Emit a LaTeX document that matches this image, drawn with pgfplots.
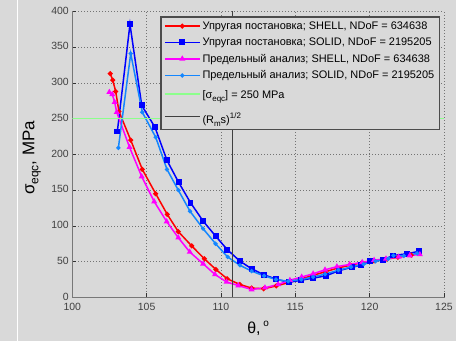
\documentclass[border=0pt]{standalone}
\usepackage{pgfplots}
\pgfplotsset{compat=1.18}
\usepackage{fontspec}
\setmainfont{Liberation Sans}
\definecolor{bg}{RGB}{217,217,217}
\definecolor{axgray}{RGB}{120,120,120}
\definecolor{lgreen}{RGB}{140,255,140}
\definecolor{lblue}{RGB}{20,135,255}
\definecolor{pmag}{RGB}{255,0,255}
\definecolor{pred}{RGB}{255,0,0}
\definecolor{pblue}{RGB}{0,0,255}
\newcommand\sub[1]{\raisebox{-0.45ex}{\fontsize{8}{8}\selectfont #1}}
\newcommand\sups[1]{\raisebox{0.9ex}{\fontsize{8}{8}\selectfont #1}}
\begin{document}
\begin{tikzpicture}
\fill[bg] (0,0) rectangle (456bp,341bp);
\draw[white,line width=0.8bp] (17bp,0) -- (17bp,341bp);
\begin{axis}[
  at={(72.3bp,44bp)}, anchor=south west,
  width=371.7bp, height=286bp, scale only axis,
  xmin=100, xmax=125, ymin=0, ymax=400,
  xtick={100,105,...,125}, ytick={0,50,...,400},
  axis x line*=bottom, axis y line*=left,
  axis line style={-, draw=axgray, line width=1.4bp},
  grid=major,
  grid style={dash pattern=on 0.8bp off 2.2bp, draw=black!55, line width=0.6bp},
  tick align=inside, major tick length=4bp,
  tick style={draw=black!80, line width=0.7bp},
  /pgf/number format/assume math mode=true,
  tick label style={font=\fontsize{10.5}{12}\selectfont, text=black!75},
  xticklabel style={yshift=-2.2bp},
  yticklabel style={yshift=0.8bp},
  xlabel={θ,\,\sups{\fontsize{10}{10}\selectfont o}},
  xlabel style={font=\fontsize{16}{18}\selectfont, at={(axis description cs:0.5,-0.108)}, anchor=center},
  ylabel={σ\raisebox{-0.45ex}{\fontsize{12}{12}\selectfont eqc}, MPa},
  ylabel style={font=\fontsize{17}{20}\selectfont, at={(axis description cs:-0.109,0.488)}, anchor=center},
  legend style={at={(0.989,0.9825)}, anchor=north east, fill=bg, draw=black!70, line width=1.2bp,
    font=\fontsize{11}{13}\selectfont, cells={anchor=west}, inner xsep=3bp, inner ysep=2.5bp, row sep=3.1bp},
  legend image code/.code={\draw[mark repeat=2,mark phase=2,#1] plot coordinates {(0bp,0bp) (17.5bp,0bp) (35bp,0bp)};},
]
\addplot[pred, line width=1.5bp, mark=*, mark size=1.7bp] coordinates {
(102.55,313) (102.72,304) (102.92,288) (103.14,260) (103.93,220) (104.71,179) (105.61,145) (106.39,116) (107.13,92) (108.03,72) (108.88,54) (109.66,39) (110.42,26) (111.28,18) (112.06,13) (112.87,12) (113.72,16) (114.6,21) (115.43,26) (116.22,31) (117.05,36) (117.85,41) (118.7,45) (119.5,48.5) (120.3,51) (121.1,53.5) (121.9,56) (122.8,59)
};
\addlegendentry{Упругая постановка; SHELL, NDoF = 634638}
\addplot[pblue, line width=1.5bp, mark=square*, mark size=2.2bp] coordinates {
(103.03,232) (103.88,382) (104.67,268.5) (105.56,238) (106.37,191.6) (107.15,161) (107.95,132.5) (108.8,106.7) (109.64,85.7) (110.43,66.7) (111.28,50.6) (112.06,40) (112.87,31.7) (113.72,25.5) (114.55,21) (115.4,24) (116.2,27) (117.05,30) (117.95,37.5) (118.8,42) (119.4,45) (120.0,50.5) (120.9,52.5) (121.6,58.5) (122.5,61) (123.35,64.5)
};
\addlegendentry{Упругая постановка; SOLID, NDoF = 2195205}
\addplot[pmag, line width=1.5bp, mark=triangle*, mark size=2bp] coordinates {
(102.49,287) (102.69,284) (102.85,273) (102.99,259) (103.85,210) (104.67,169) (105.51,134) (106.35,106) (107.13,83.5) (107.9,63.5) (108.8,47) (109.6,32) (110.38,21.5) (111.17,16.5) (112.06,11) (112.96,13.5) (113.85,18) (114.64,24) (115.43,28.5) (116.2,33) (117.0,38.5) (117.8,43) (118.65,46) (119.5,49) (120.3,52) (121.1,54) (121.95,56.5) (122.7,58.5) (123.38,60)
};
\addlegendentry{Предельный анализ; SHELL, NDoF = 634638}
\addplot[lblue, line width=1.5bp, mark=*, mark size=1.3bp] coordinates {
(103.1,209) (103.93,341) (104.71,259) (105.61,224) (106.37,179) (107.13,150) (107.92,120.5) (108.8,96) (109.64,75) (110.45,56.5) (111.28,44.8) (112.06,36.8) (112.9,30) (113.7,25) (114.53,22.5) (115.4,25) (116.2,28.5) (117.0,32.5) (117.9,38) (118.75,42.5) (119.6,46.5) (120.4,50.5) (121.25,54) (121.6,58.5) (122.3,58) (123.2,61.5)
};
\addlegendentry{Предельный анализ; SOLID, NDoF = 2195205}
\addplot[lgreen, line width=1.5bp] coordinates {(100,250) (125,250)};
\addlegendentry{\rule[-4.5bp]{0pt}{16bp}[σ\sub{eqc}] = 250 MPa}
\addplot[black!75, line width=0.9bp] coordinates {(110.8,0) (110.8,400)};
\addlegendentry{\rule[-8bp]{0pt}{24bp}(R\sub{m}s)\sups{1/2}}
\end{axis}
\end{tikzpicture}
\end{document}
